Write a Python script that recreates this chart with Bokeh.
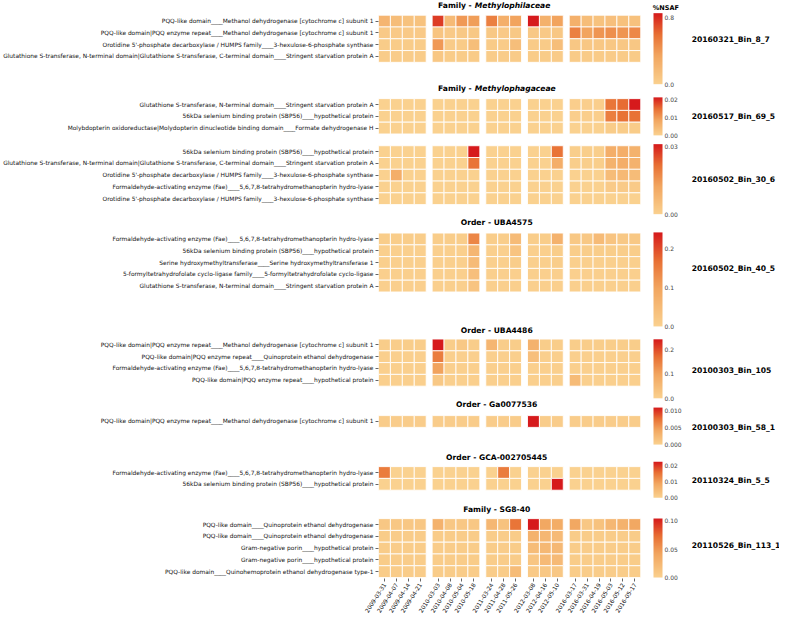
from bokeh.plotting import figure
from bokeh.models import (ColumnDataSource, LinearColorMapper, ColorBar, FixedTicker,
                          PrintfTickFormatter, Range1d)
from bokeh.core.properties import value
from bokeh.embed import file_html
from bokeh.resources import INLINE

# ---------------- data ----------------
dates = ["2009-03-31", "2009-04-07", "2009-04-14", "2009-04-21",
         "2010-03-03", "2010-04-08", "2010-05-04", "2010-05-18",
         "2011-03-24", "2011-04-28", "2011-05-26",
         "2012-03-08", "2012-04-16", "2012-05-10",
         "2016-03-17", "2016-03-31", "2016-04-19", "2016-05-03", "2016-05-12", "2016-05-17"]
group_sizes = [4, 4, 3, 3, 6]

p1_labels = ["PQQ-like domain____Methanol dehydrogenase [cytochrome c] subunit 1",
             "PQQ-like domain|PQQ enzyme repeat____Methanol dehydrogenase [cytochrome c] subunit 1",
             "Orotidine 5'-phosphate decarboxylase / HUMPS family____3-hexulose-6-phosphate synthase",
             "Glutathione S-transferase, N-terminal domain|Glutathione S-transferase, C-terminal domain____Stringent starvation protein A"]
p1_values = [
    [0.22, 0.16, 0.12, 0.12, 0.75, 0.18, 0.40, 0.38, 0.52, 0.27, 0.35, 0.85, 0.25, 0.35, 0.26, 0.16, 0.12, 0.14, 0.13, 0.13],
    [0.06, 0.06, 0.06, 0.06, 0.10, 0.06, 0.07, 0.07, 0.07, 0.06, 0.07, 0.07, 0.06, 0.08, 0.52, 0.35, 0.42, 0.45, 0.42, 0.48],
    [0.04, 0.04, 0.04, 0.04, 0.40, 0.05, 0.05, 0.15, 0.05, 0.05, 0.15, 0.05, 0.05, 0.15, 0.08, 0.08, 0.08, 0.08, 0.08, 0.08],
    [0.04, 0.04, 0.04, 0.04, 0.08, 0.04, 0.04, 0.05, 0.04, 0.04, 0.05, 0.04, 0.04, 0.05, 0.05, 0.05, 0.05, 0.05, 0.05, 0.05]]
p1_max, p1_ticks, p1_fmt = 0.85, [0.0, 0.8], "%.1f"

p2_labels = ["Glutathione S-transferase, N-terminal domain____Stringent starvation protein A",
             "56kDa selenium binding protein (SBP56)____hypothetical protein",
             "Molybdopterin oxidoreductase|Molydopterin dinucleotide binding domain____Formate dehydrogenase H"]
p2_values = [
    [0, 0, 0, 0, 0, 0, 0, 0, 0, 0, 0, 0, 0, 0, 0.0005, 0.0005, 0.0005, 0.014, 0.015, 0.021],
    [0, 0, 0, 0, 0, 0, 0, 0, 0, 0, 0, 0, 0, 0, 0.0005, 0.0005, 0.0005, 0.013, 0.0145, 0.0145],
    [0, 0, 0, 0, 0, 0, 0, 0, 0, 0, 0, 0, 0, 0, 0, 0, 0, 0.001, 0.001, 0.001]]
p2_max, p2_ticks, p2_fmt = 0.021, [0.0, 0.01, 0.02], "%.2f"

p3_labels = ["56kDa selenium binding protein (SBP56)____hypothetical protein",
             "Glutathione S-transferase, N-terminal domain|Glutathione S-transferase, C-terminal domain____Stringent starvation protein A",
             "Orotidine 5'-phosphate decarboxylase / HUMPS family____3-hexulose-6-phosphate synthase",
             "Formaldehyde-activating enzyme (Fae)____5,6,7,8-tetrahydromethanopterin hydro-lyase",
             "Orotidine 5'-phosphate decarboxylase / HUMPS family____3-hexulose-6-phosphate synthase"]
p3_values = [
    [0, 0, 0, 0, 0, 0, 0, 0.031, 0, 0, 0, 0, 0, 0.021, 0.001, 0.001, 0.001, 0.010, 0.010, 0.009],
    [0, 0, 0, 0, 0, 0, 0, 0.021, 0, 0, 0, 0, 0, 0.010, 0.001, 0.001, 0.001, 0.009, 0.010, 0.009],
    [0, 0.010, 0, 0, 0, 0, 0, 0, 0, 0, 0, 0, 0, 0, 0, 0, 0, 0.006, 0.007, 0.006],
    [0, 0, 0, 0, 0, 0, 0, 0, 0, 0, 0, 0, 0, 0, 0, 0, 0, 0.002, 0.002, 0.002],
    [0, 0, 0, 0, 0, 0, 0, 0, 0, 0, 0, 0, 0, 0, 0, 0, 0, 0, 0, 0]]
p3_max, p3_ticks, p3_fmt = 0.031, [0.0, 0.03], "%.2f"

p4_labels = ["Formaldehyde-activating enzyme (Fae)____5,6,7,8-tetrahydromethanopterin hydro-lyase",
             "56kDa selenium binding protein (SBP56)____hypothetical protein",
             "Serine hydroxymethyltransferase____Serine hydroxymethyltransferase 1",
             "5-formyltetrahydrofolate cyclo-ligase family____5-formyltetrahydrofolate cyclo-ligase",
             "Glutathione S-transferase, N-terminal domain____Stringent starvation protein A"]
p4_values = [
    [0.01, 0.01, 0.01, 0.01, 0.01, 0.01, 0.01, 0.14, 0.01, 0.01, 0.05, 0.01, 0.01, 0.07, 0.02, 0.02, 0.05, 0.03, 0.02, 0.02],
    [0.005, 0.005, 0.005, 0.005, 0.005, 0.005, 0.005, 0.06, 0.005, 0.005, 0.03, 0.005, 0.005, 0.01, 0.01, 0.01, 0.01, 0.01, 0.01, 0.01],
    [0.005, 0.005, 0.005, 0.005, 0.005, 0.005, 0.005, 0.05, 0.005, 0.005, 0.01, 0.005, 0.005, 0.01, 0.005, 0.005, 0.005, 0.005, 0.005, 0.005],
    [0.005, 0.005, 0.005, 0.005, 0.005, 0.005, 0.005, 0.04, 0.005, 0.005, 0.005, 0.005, 0.005, 0.005, 0.005, 0.005, 0.005, 0.005, 0.005, 0.005],
    [0.005, 0.005, 0.005, 0.005, 0.005, 0.005, 0.005, 0.03, 0.005, 0.005, 0.005, 0.005, 0.005, 0.005, 0.005, 0.005, 0.005, 0.005, 0.005, 0.005]]
p4_max, p4_ticks, p4_fmt = 0.242, [0.0, 0.1, 0.2], "%.1f"

p5_labels = ["PQQ-like domain|PQQ enzyme repeat____Methanol dehydrogenase [cytochrome c] subunit 1",
             "PQQ-like domain|PQQ enzyme repeat____Quinoprotein ethanol dehydrogenase",
             "Formaldehyde-activating enzyme (Fae)____5,6,7,8-tetrahydromethanopterin hydro-lyase",
             "PQQ-like domain|PQQ enzyme repeat____hypothetical protein"]
p5_values = [
    [0.01, 0.01, 0.01, 0.01, 0.24, 0.01, 0.02, 0.01, 0.06, 0.01, 0.01, 0.07, 0.01, 0.01, 0.01, 0.01, 0.01, 0.01, 0.01, 0.01],
    [0.005, 0.005, 0.005, 0.005, 0.15, 0.005, 0.005, 0.005, 0.005, 0.005, 0.005, 0.04, 0.005, 0.005, 0.005, 0.005, 0.005, 0.005, 0.005, 0.005],
    [0.005, 0.005, 0.005, 0.005, 0.10, 0.005, 0.005, 0.005, 0.005, 0.005, 0.005, 0.005, 0.005, 0.005, 0.005, 0.005, 0.005, 0.005, 0.005, 0.005],
    [0.005, 0.005, 0.005, 0.005, 0.02, 0.005, 0.005, 0.005, 0.005, 0.005, 0.005, 0.005, 0.005, 0.005, 0.05, 0.005, 0.005, 0.005, 0.005, 0.005]]
p5_max, p5_ticks, p5_fmt = 0.24, [0.0, 0.1, 0.2], "%.1f"

p6_labels = ["PQQ-like domain|PQQ enzyme repeat____Methanol dehydrogenase [cytochrome c] subunit 1"]
p6_values = [
    [0.0005, 0.0005, 0.0005, 0.0005, 0.0005, 0.0005, 0.0005, 0.0005, 0.0005, 0.0005, 0.0005, 0.0108, 0.0005, 0.0005, 0.0005, 0.0005, 0.0005, 0.0005, 0.0005, 0.0005]]
p6_max, p6_ticks, p6_fmt = 0.0108, [0.0, 0.005, 0.010], "%.3f"

p7_labels = ["Formaldehyde-activating enzyme (Fae)____5,6,7,8-tetrahydromethanopterin hydro-lyase",
             "56kDa selenium binding protein (SBP56)____hypothetical protein"]
p7_values = [
    [0.014, 0, 0, 0, 0, 0, 0, 0, 0, 0.014, 0, 0, 0, 0, 0, 0, 0, 0, 0, 0],
    [0, 0, 0, 0, 0, 0, 0, 0, 0, 0, 0, 0, 0, 0.022, 0, 0, 0, 0, 0, 0]]
p7_max, p7_ticks, p7_fmt = 0.022, [0.0, 0.01, 0.02], "%.2f"

p8_labels = ["PQQ-like domain____Quinoprotein ethanol dehydrogenase",
             "PQQ-like domain____Quinoprotein ethanol dehydrogenase",
             "Gram-negative porin____hypothetical protein",
             "Gram-negative porin____hypothetical protein",
             "PQQ-like domain____Quinohemoprotein ethanol dehydrogenase type-1"]
p8_values = [
    [0.01, 0.01, 0.01, 0.01, 0.03, 0.01, 0.01, 0.01, 0.025, 0.015, 0.07, 0.104, 0.04, 0.035, 0.04, 0.01, 0.015, 0.025, 0.03, 0.04],
    [0.005, 0.005, 0.005, 0.005, 0.005, 0.005, 0.005, 0.005, 0.005, 0.005, 0.005, 0.03, 0.025, 0.022, 0.005, 0.005, 0.005, 0.005, 0.005, 0.005],
    [0.005, 0.005, 0.005, 0.005, 0.005, 0.005, 0.005, 0.005, 0.005, 0.005, 0.005, 0.02, 0.024, 0.024, 0.005, 0.005, 0.005, 0.005, 0.005, 0.005],
    [0.005, 0.005, 0.005, 0.005, 0.005, 0.005, 0.005, 0.005, 0.005, 0.005, 0.005, 0.012, 0.022, 0.022, 0.005, 0.005, 0.005, 0.005, 0.005, 0.005],
    [0.005, 0.005, 0.005, 0.005, 0.005, 0.005, 0.005, 0.005, 0.005, 0.005, 0.02, 0.008, 0.01, 0.01, 0.005, 0.005, 0.005, 0.005, 0.005, 0.005]]
p8_max, p8_ticks, p8_fmt = 0.104, [0.0, 0.05, 0.10], "%.2f"

titles = [("Family -", "Methylophilaceae"), ("Family -", "Methylophagaceae"), None,
          ("Order - UBA4575", None), ("Order - UBA4486", None), ("Order - Ga0077536", None),
          ("Order - GCA-002705445", None), ("Family - SG8-40", None)]
bins = ["20160321_Bin_8_7", "20160517_Bin_69_5", "20160502_Bin_30_6", "20160502_Bin_40_5",
        "20100303_Bin_105", "20100303_Bin_58_1", "20110324_Bin_5_5", "20110526_Bin_113_1"]
cbar_title = "%NSAF"

panels = [(p1_labels, p1_values, p1_max, p1_ticks, p1_fmt),
          (p2_labels, p2_values, p2_max, p2_ticks, p2_fmt),
          (p3_labels, p3_values, p3_max, p3_ticks, p3_fmt),
          (p4_labels, p4_values, p4_max, p4_ticks, p4_fmt),
          (p5_labels, p5_values, p5_max, p5_ticks, p5_fmt),
          (p6_labels, p6_values, p6_max, p6_ticks, p6_fmt),
          (p7_labels, p7_values, p7_max, p7_ticks, p7_fmt),
          (p8_labels, p8_values, p8_max, p8_ticks, p8_fmt)]

# ---------------- layout (reference pixel units) ----------------
panel_tops = [15, 100, 148, 237, 345, 423, 475, 528]
ROW_H = 12
title_y = [5, 90, None, 226, 336, 412, 466, 519]
bin_y = [40, 118, 182, 273, 377, 435, 489, 555]
cbar_span = [(15, 87), (100, 139), (148, 219), (238, 333), (346, 406), (415, 453), (470, 507), (528, 588)]

W, H = 779, 617
BORDER_L, BORDER_B = 377, 37
FW, FH = W - BORDER_L, H - BORDER_B
Y0, Y1 = 0.0, 589.0
S = FH / (Y1 - Y0)
PX_PER_UNIT = 5.975          # half a column
FRAME_LEFT_PAGE = 379


def page_x_to_data(px):
    return -1 + (px - FRAME_LEFT_PAGE) / PX_PER_UNIT


# palette light orange -> red
stops = [(0.0, (250, 209, 143)), (0.4, (242, 166, 96)), (0.7, (232, 112, 52)), (1.0, (214, 26, 28))]
palette = []
for i in range(256):
    t = i / 255
    for (a, ca), (b, cb) in zip(stops[:-1], stops[1:]):
        if a <= t <= b:
            f = (t - a) / (b - a)
            c = tuple(int(round(ca[k] + f * (cb[k] - ca[k]))) for k in range(3))
            palette.append("#%02x%02x%02x" % c)
            break

col_x = []
for g, n in enumerate(group_sizes):
    for k in range(n):
        col_x.append(2 * len(col_x) + g)

p = figure(width=W, height=H, output_backend="svg", toolbar_location=None,
           x_range=Range1d(-1, -1 + FW / PX_PER_UNIT), y_range=Range1d(Y1, Y0),
           min_border_left=BORDER_L, min_border_right=0, min_border_top=0,
           min_border_bottom=BORDER_B)
p.outline_line_color = None
p.grid.visible = False
p.background_fill_color = "white"

ytick_pos, ytick_lab = [], {}
for pi, (labels, vals, vmax, ticks, fmt) in enumerate(panels):
    mapper = LinearColorMapper(palette=palette, low=0, high=vmax)
    xs, ys, vs = [], [], []
    for r, row in enumerate(vals):
        yc = panel_tops[pi] + ROW_H // 2 + ROW_H * r
        ytick_pos.append(yc)
        ytick_lab[yc] = labels[r]
        for c, v in enumerate(row):
            xs.append(col_x[c]); ys.append(yc); vs.append(v)
    src = ColumnDataSource(dict(x=xs, y=ys, v=vs))
    p.rect(x="x", y="y", width=2, height=ROW_H, source=src,
           fill_color={"field": "v", "transform": mapper},
           line_color="white", line_width=1, line_alpha=0.85)

    top, bot = cbar_span[pi]
    hpx = (bot - top) * S
    yloc = FH - (bot - Y0) * S
    cb = ColorBar(color_mapper=mapper, location=(654 - FRAME_LEFT_PAGE, yloc),
                  width=9, height=int(round(hpx)), padding=0, margin=0,
                  ticker=FixedTicker(ticks=ticks), formatter=PrintfTickFormatter(format=fmt),
                  major_label_text_font_size="6px", major_label_text_font="DejaVu Sans",
                  major_tick_line_color=None, minor_tick_line_color=None,
                  bar_line_color=None, border_line_color=None, background_fill_alpha=0,
                  label_standoff=2)
    p.add_layout(cb, "center")

common = dict(text_font=value("DejaVu Sans"), text_font_size=value("7.6px"),
              text_baseline="middle", text_color="black")

# titles
tx_c, ty_c, tt_c = [], [], []
tx_r, ty_r, tt_r = [], [], []
tx_i, ty_i, tt_i = [], [], []
for t, yy in zip(titles, title_y):
    if t is None:
        continue
    head, ital = t
    if ital is None:
        tx_c.append(page_x_to_data(497.5)); ty_c.append(yy); tt_c.append(head)
    else:
        tx_r.append(page_x_to_data(472.5)); ty_r.append(yy); tt_r.append(head)
        tx_i.append(page_x_to_data(475.5)); ty_i.append(yy); tt_i.append(ital)
p.text(x=tx_c, y=ty_c, text=tt_c, text_align="center", text_font_style="bold", **common)
p.text(x=tx_r, y=ty_r, text=tt_r, text_align="right", text_font_style="bold", **common)
p.text(x=tx_i, y=ty_i, text=tt_i, text_align="left", text_font_style="bold italic", **common)

# colour-bar caption
p.text(x=[page_x_to_data(654)], y=[8], text=[cbar_title], text_align="left",
       text_baseline="middle", text_font=value("DejaVu Sans"), text_font_size=value("6.5px"),
       text_font_style="bold", text_color="black")

# bin labels
p.text(x=[page_x_to_data(693)] * len(bins), y=bin_y, text=bins, text_align="left",
       text_font_style="bold", **common)

# axes
p.yaxis.ticker = FixedTicker(ticks=ytick_pos)
p.yaxis.major_label_overrides = ytick_lab
p.yaxis.major_label_text_font_size = "5.9px"
p.yaxis.major_label_text_font = "DejaVu Sans"
p.yaxis.major_label_text_color = "#111111"
p.yaxis.axis_line_color = None
p.yaxis.major_tick_out = 3
p.yaxis.major_tick_in = 0
p.yaxis.major_tick_line_color = "#666666"
p.yaxis.minor_tick_line_color = None
p.yaxis.major_label_standoff = 2

p.xaxis.ticker = FixedTicker(ticks=col_x)
p.xaxis.major_label_overrides = {x: d for x, d in zip(col_x, dates)}
p.xaxis.major_label_orientation = 1.0
p.xaxis.major_label_text_font_size = "5.8px"
p.xaxis.major_label_text_font = "DejaVu Sans"
p.xaxis.major_label_text_color = "#111111"
p.xaxis.axis_line_color = None
p.xaxis.major_tick_out = 3
p.xaxis.major_tick_in = 0
p.xaxis.major_tick_line_color = "#666666"
p.xaxis.minor_tick_line_color = None
p.xaxis.major_label_standoff = 2

open("out.html", "w").write(file_html(p, INLINE))
